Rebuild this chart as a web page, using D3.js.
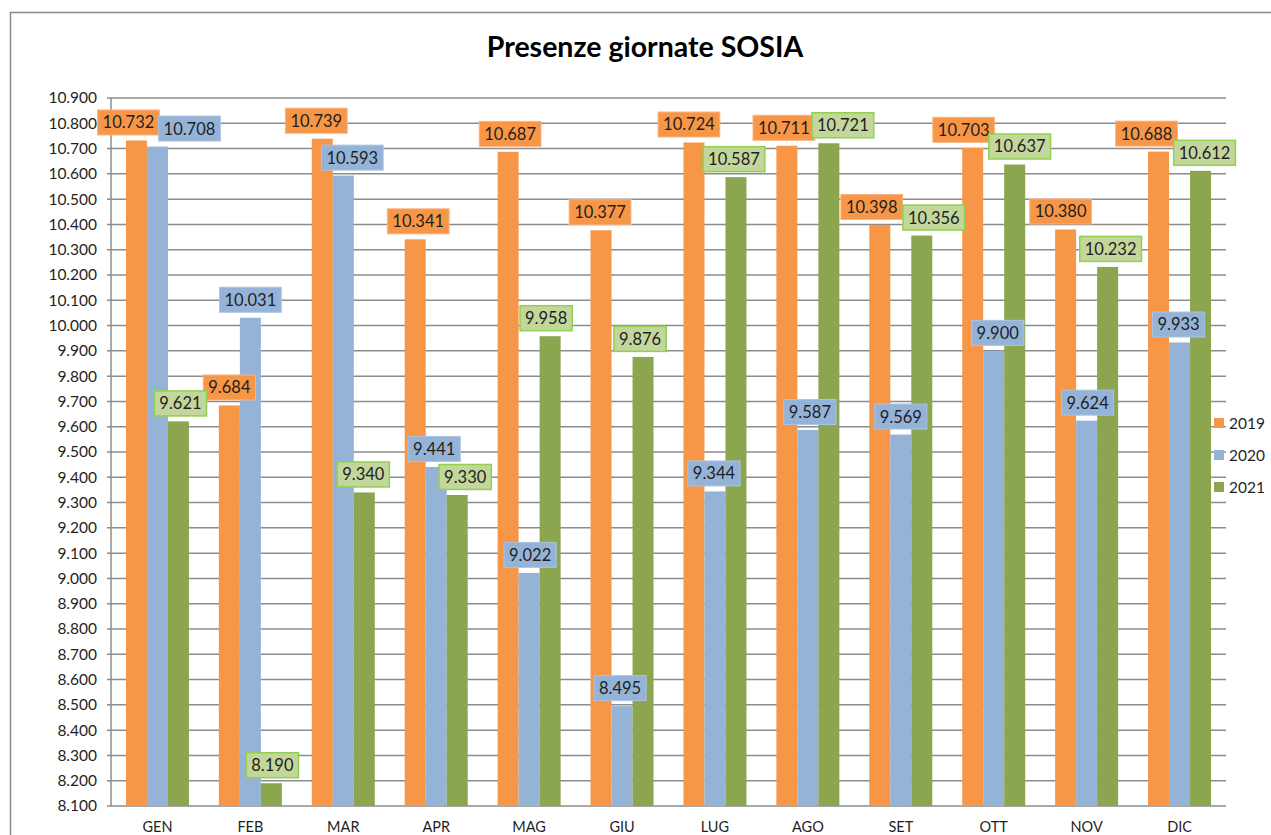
<!DOCTYPE html>
<html>
<head>
<meta charset="utf-8">
<script src="https://cdn.jsdelivr.net/npm/d3@7"></script>
<style>
    body { margin: 0; background: #fff; }
    text { font-family: Lato, "Open Sans", sans-serif; fill: #1f1f1f; }
</style>
</head>
<body>
<div class="container"></div>
<script>
// data
const months = ['GEN', 'FEB', 'MAR', 'APR', 'MAG', 'GIU', 'LUG', 'AGO', 'SET', 'OTT', 'NOV', 'DIC'];
const years = ['2019', '2020', '2021'];
const values2019 = [10732, 9684, 10739, 10341, 10687, 10377, 10724, 10711, 10398, 10703, 10380, 10688];
const values2020 = [10708, 10031, 10593, 9441, 9022, 8495, 9344, 9587, 9569, 9900, 9624, 9933];
const values2021 = [9621, 8190, 9340, 9330, 9958, 9876, 10587, 10721, 10356, 10637, 10232, 10612];
const yTicks = d3.range(8100, 10901, 100);

// label nudges (px) as placed in the original
const shift2019 = [-8, 0, -6, 3, 2, -1, -5, -3, -8, -9, -5, -12];
const shift2020 = [32, 0, 9, -2, 1, -2, -1, 2, 0, 4, 1, -1];
const shift2021 = [2, 1, -1, 8, -4, -3, -2, 14, 12, 5, 3, 4];

const width = 1271;
const height = 835;
const margin = {top: 98, right: 45, bottom: 29, left: 111};

const colors = {'2019': '#F79646', '2020': '#95B3D7', '2021': '#8BA64E'};
const labelFill = {'2019': '#F79646', '2020': '#95B3D7', '2021': '#C3D69B'};
const labelStroke = {'2019': '#FAB383', '2020': '#ABC4E2', '2021': '#92D050'};

const series = [
    {year: '2019', values: values2019, shift: shift2019},
    {year: '2020', values: values2020, shift: shift2020},
    {year: '2021', values: values2021, shift: shift2021}
];

const svg = d3.select('.container')
    .append('svg')
    .attr('width', width)
    .attr('height', height);

// chart frame
svg.append('rect')
    .attr('x', 10.5).attr('y', 12.5)
    .attr('width', 1300).attr('height', 900)
    .attr('fill', 'none')
    .attr('stroke', '#8a8a8a')
    .attr('stroke-width', 1.5);

svg.append('text')
    .attr('x', 645)
    .attr('y', 57)
    .attr('text-anchor', 'middle')
    .style('font-size', '28.5px')
    .style('font-weight', 'bold')
    .style('fill', '#000')
    .text('Presenze giornate SOSIA');

let x0 = d3.scaleBand()
    .domain(months)
    .range([margin.left, width - margin.right])
    .paddingInner(0.322)
    .paddingOuter(0.161);

let x1 = d3.scaleBand()
    .domain(years)
    .range([0, x0.bandwidth()]);

let y = d3.scaleLinear()
    .domain([8100, 10900])
    .range([height - margin.bottom, margin.top]);

//Gridlines
svg.append('g')
    .selectAll('line')
    .data(yTicks)
    .enter()
    .append('line')
    .attr('x1', margin.left - 4)
    .attr('x2', width - margin.right)
    .attr('y1', d => y(d))
    .attr('y2', d => y(d))
    .attr('stroke', '#8c8c8c')
    .attr('stroke-width', 1.5);

svg.append('line')
    .attr('x1', margin.left).attr('x2', margin.left)
    .attr('y1', y(10900)).attr('y2', y(8100))
    .attr('stroke', '#8c8c8c')
    .attr('stroke-width', 1.5);

//Y axis labels
let yAxis = d3.axisLeft(y)
    .tickValues(yTicks)
    .tickSize(0)
    .tickPadding(14)
    .tickFormat(d => d3.format('.3f')(d / 1000));

let gy = svg.append('g')
    .attr('transform', 'translate(' + margin.left + ',0)')
    .call(yAxis);
gy.select('.domain').remove();
gy.selectAll('text')
    .style('font-size', '15.5px')
    .style('font-family', 'Lato, sans-serif')
    .attr('fill', '#1f1f1f');

//X axis labels
let xAxis = d3.axisBottom(x0).tickSize(0).tickPadding(16);
let gx = svg.append('g')
    .attr('transform', 'translate(0,' + (height - margin.bottom) + ')')
    .call(xAxis);
gx.select('.domain').remove();
gx.selectAll('text')
    .style('font-size', '14.5px')
    .style('font-family', 'Lato, sans-serif')
    .attr('fill', '#1f1f1f');

//Bars
let groups = svg.append('g')
    .selectAll('g')
    .data(series)
    .enter()
    .append('g');

groups.selectAll('rect')
    .data(s => s.values.map((v, i) => ({year: s.year, month: months[i], value: v})))
    .enter()
    .append('rect')
    .attr('x', d => x0(d.month) + x1(d.year))
    .attr('width', x1.bandwidth())
    .attr('y', d => y(d.value))
    .attr('height', d => y(8100) - y(d.value))
    .attr('fill', d => colors[d.year]);

//Data labels
let labels = svg.append('g')
    .selectAll('g')
    .data(series.flatMap(s => s.values.map((v, i) => ({year: s.year, month: months[i], value: v, dx: s.shift[i]}))))
    .enter()
    .append('g')
    .attr('transform', d => 'translate(' + (x0(d.month) + x1(d.year) + x1.bandwidth() / 2 + d.dx) + ',' + (y(d.value) - 18) + ')');

labels.append('rect');
labels.append('text')
    .attr('text-anchor', 'middle')
    .attr('dy', '0.36em')
    .style('font-size', '16.5px')
    .text(d => d3.format('.3f')(d.value / 1000));

labels.each(function(d) {
    let g = d3.select(this);
    let w = g.select('text').node().getComputedTextLength() + 10;
    g.select('rect')
        .attr('x', -w / 2)
        .attr('y', -12.5)
        .attr('width', w)
        .attr('height', 25)
        .attr('fill', labelFill[d.year])
        .attr('stroke', labelStroke[d.year])
        .attr('stroke-width', d.year === '2021' ? 1.5 : 1);
});

//Legend
let legend = svg.append('g')
    .selectAll('g')
    .data(years)
    .enter()
    .append('g')
    .attr('transform', (d, i) => 'translate(1214,' + (423 + i * 32) + ')');

legend.append('rect')
    .attr('x', 0).attr('y', -5)
    .attr('width', 10).attr('height', 10)
    .attr('fill', d => colors[d]);

legend.append('text')
    .attr('x', 15)
    .attr('dy', '0.36em')
    .style('font-size', '15.5px')
    .text(d => d);
</script>
</body>
</html>
